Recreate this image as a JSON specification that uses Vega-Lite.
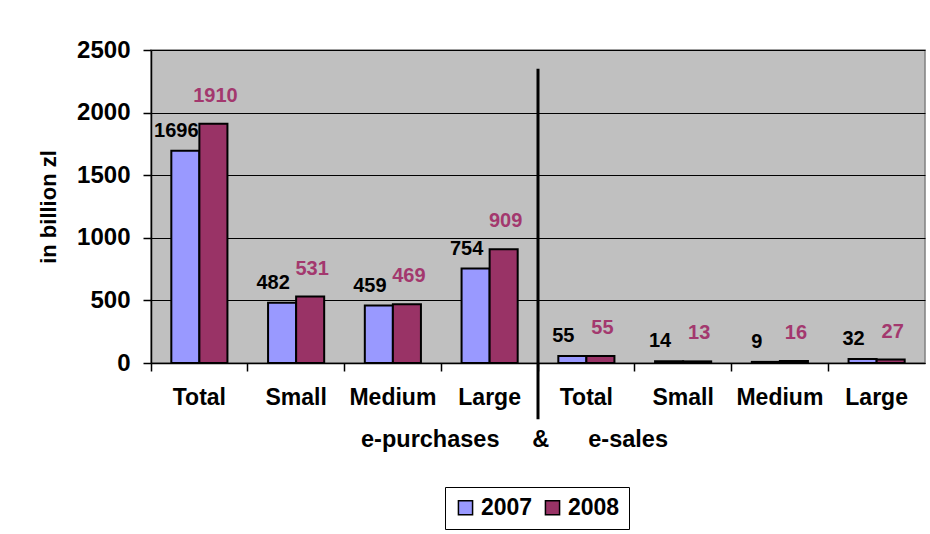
{
  "$schema": "https://vega.github.io/schema/vega-lite/v6.json",
  "width": 774,
  "height": 313,
  "autosize": {"type": "none"},
  "padding": {"left": 151, "top": 50, "right": 5, "bottom": 171},
  "background": "white",
  "config": {
    "font": "Liberation Sans",
    "view": {"fill": "#C0C0C0", "stroke": "#808080", "strokeWidth": 1.5}
  },
  "datasets": {
    "bars": [
      {"item": "e-purchases|Total", "year": "2007", "value": 1696},
      {"item": "e-purchases|Total", "year": "2008", "value": 1910},
      {"item": "e-purchases|Small", "year": "2007", "value": 482},
      {"item": "e-purchases|Small", "year": "2008", "value": 531},
      {"item": "e-purchases|Medium", "year": "2007", "value": 459},
      {"item": "e-purchases|Medium", "year": "2008", "value": 469},
      {"item": "e-purchases|Large", "year": "2007", "value": 754},
      {"item": "e-purchases|Large", "year": "2008", "value": 909},
      {"item": "e-sales|Total", "year": "2007", "value": 55},
      {"item": "e-sales|Total", "year": "2008", "value": 55},
      {"item": "e-sales|Small", "year": "2007", "value": 14},
      {"item": "e-sales|Small", "year": "2008", "value": 13},
      {"item": "e-sales|Medium", "year": "2007", "value": 9},
      {"item": "e-sales|Medium", "year": "2008", "value": 16},
      {"item": "e-sales|Large", "year": "2007", "value": 32},
      {"item": "e-sales|Large", "year": "2008", "value": 27}
    ],
    "divider": [
      {"item": "e-purchases|Large", "top": 2350, "bottom": -450}
    ]
  },
  "layer": [
    {
      "data": {"name": "bars"},
      "mark": {"type": "bar", "stroke": "black", "strokeWidth": 2},
      "encoding": {
        "x": {
          "field": "item", "type": "nominal", "sort": null,
          "scale": {"paddingInner": 0.42, "paddingOuter": 0.21},
          "axis": {
            "labelExpr": "split(datum.label, '|')[1]",
            "title": "e-purchases\u00a0\u00a0\u00a0\u00a0\u00a0&\u00a0\u00a0\u00a0\u00a0\u00a0\u00a0e-sales",
            "labelAngle": 0,
            "labelFontSize": 23, "labelFontWeight": "bold", "labelColor": "black",
            "labelPadding": 15,
            "titleFontSize": 23.5, "titleFontWeight": "bold", "titleColor": "black",
            "titlePadding": 18,
            "titleX": 363,
            "domainColor": "black", "domainWidth": 1.5,
            "tickColor": "black", "tickSize": 8, "tickWidth": 1.5,
            "bandPosition": -0.362
          }
        },
        "xOffset": {"field": "year", "type": "nominal"},
        "y": {
          "field": "value", "type": "quantitative",
          "scale": {"domain": [0, 2500], "nice": false},
          "axis": {
            "values": [0, 500, 1000, 1500, 2000, 2500],
            "format": "d",
            "title": "in billion zl",
            "titleFontSize": 22, "titleFontWeight": "bold", "titleColor": "black",
            "titlePadding": 16,
            "labelFontSize": 24, "labelFontWeight": "bold", "labelColor": "black",
            "labelPadding": 13,
            "domainColor": "black", "domainWidth": 1.5,
            "tickColor": "black", "tickSize": 8, "tickWidth": 1.5,
            "gridColor": "black", "gridWidth": 1, "gridOpacity": 1
          }
        },
        "color": {
          "field": "year", "type": "nominal",
          "scale": {"domain": ["2007", "2008"], "range": ["#9999FF", "#993366"]},
          "legend": {
            "title": null, "orient": "none", "direction": "horizontal",
            "legendX": 294, "legendY": 437,
            "strokeColor": "black", "padding": 9,
            "symbolType": "square", "symbolSize": 200,
            "symbolStrokeColor": "black", "symbolStrokeWidth": 1.5,
            "labelFontSize": 23, "labelFontWeight": "bold", "labelColor": "black",
            "columnPadding": 8, "labelOffset": 4
          }
        }
      }
    },
    {
      "data": {"name": "bars"},
      "transform": [{"filter": "datum.year === '2007'"}],
      "mark": {"type": "text", "fontSize": 20, "fontWeight": "bold", "color": "black", "baseline": "middle", "dy": -20, "dx": -9},
      "encoding": {
        "x": {"field": "item", "type": "nominal", "sort": null},
        "xOffset": {"field": "year", "type": "nominal"},
        "y": {"field": "value", "type": "quantitative"},
        "text": {"field": "value", "type": "quantitative"}
      }
    },
    {
      "data": {"name": "bars"},
      "transform": [{"filter": "datum.year === '2008'"}],
      "mark": {"type": "text", "fontSize": 20, "fontWeight": "bold", "color": "#A3386E", "baseline": "middle", "dy": -28, "dx": 2},
      "encoding": {
        "x": {"field": "item", "type": "nominal", "sort": null},
        "xOffset": {"field": "year", "type": "nominal"},
        "y": {"field": "value", "type": "quantitative"},
        "text": {"field": "value", "type": "quantitative"}
      }
    },
    {
      "data": {"name": "divider"},
      "mark": {"type": "rule", "color": "black", "strokeWidth": 3},
      "encoding": {
        "x": {"field": "item", "type": "nominal", "sort": null, "bandPosition": 1.362},
        "y": {"field": "top", "type": "quantitative"},
        "y2": {"field": "bottom"}
      }
    }
  ]
}
